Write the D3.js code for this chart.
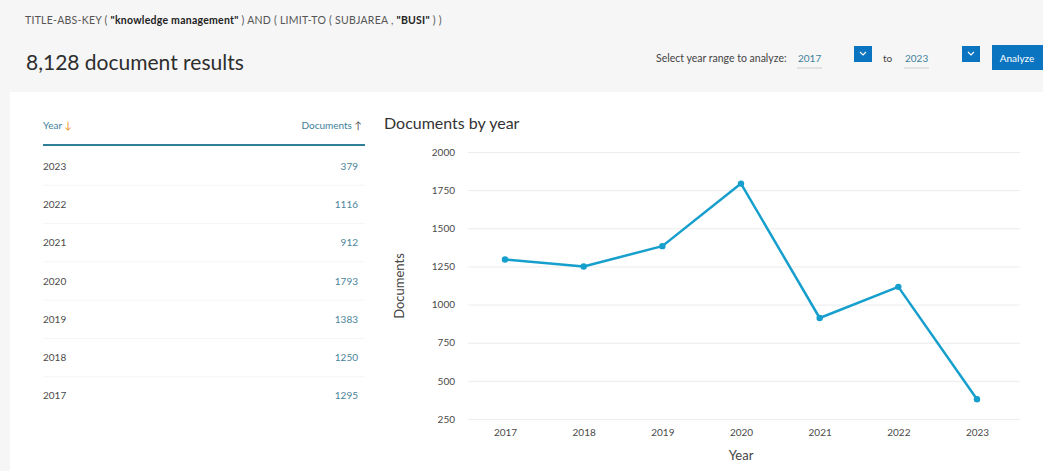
<!DOCTYPE html>
<html><head><meta charset="utf-8">
<script src="https://cdn.jsdelivr.net/npm/d3@7"></script>
<style>
html,body{margin:0;padding:0;background:#fff;}
svg{display:block;font-family:Lato,"Open Sans",sans-serif;}
</style></head>
<body>
<svg id="c" width="1043" height="471"></svg>
<script>
const years = [2017, 2018, 2019, 2020, 2021, 2022, 2023];
const documents = [1295, 1250, 1383, 1793, 912, 1116, 379];
const yTicks = [250, 500, 750, 1000, 1250, 1500, 1750, 2000];
const totalResults = "8,128 document results";
const chartTitle = "Documents by year";

const svg = d3.select("#c");
const W = 1043, H = 471;

// backgrounds
svg.append("rect").attr("width", W).attr("height", H).attr("fill", "#f6f6f6");
svg.append("rect").attr("x", 10).attr("y", 92).attr("width", W - 10).attr("height", H - 92).attr("fill", "#ffffff");

// query line
const q = svg.append("text").attr("x", 25).attr("y", 24).attr("font-size", 10.5).attr("letter-spacing", 0.25).attr("fill", "#555");
q.append("tspan").text('TITLE-ABS-KEY ( ');
q.append("tspan").attr("font-weight", "bold").attr("fill", "#222").text('"knowledge management"');
q.append("tspan").text(' ) AND ( LIMIT-TO ( SUBJAREA , ');
q.append("tspan").attr("font-weight", "bold").attr("fill", "#222").text('"BUSI"');
q.append("tspan").text(' ) )');

svg.append("text").attr("x", 26).attr("y", 70).attr("font-size", 21).attr("fill", "#2e2e2e").text(totalResults);

// year range controls
svg.append("text").attr("x", 656).attr("y", 62).attr("font-size", 10.5).attr("fill", "#444").text("Select year range to analyze:");
svg.append("text").attr("x", 798).attr("y", 62).attr("font-size", 10).attr("fill", "#3d7f9a").text(years[0]);
svg.append("line").attr("x1", 797).attr("x2", 822).attr("y1", 68).attr("y2", 68).attr("stroke", "#ccc");
svg.append("text").attr("x", 883).attr("y", 62).attr("font-size", 10).attr("fill", "#444").text("to");
svg.append("text").attr("x", 905).attr("y", 62).attr("font-size", 10).attr("fill", "#3d7f9a").text(years[years.length - 1]);
svg.append("line").attr("x1", 904).attr("x2", 929).attr("y1", 68).attr("y2", 68).attr("stroke", "#ccc");
[854, 962].forEach(x => {
  svg.append("rect").attr("x", x).attr("y", 46).attr("width", 18).attr("height", 16).attr("fill", "#0b74c0");
  svg.append("path").attr("d", `M${x+6},${52} L${x+9},${55} L${x+12},${52}`).attr("fill", "none").attr("stroke", "#fff").attr("stroke-width", 1.2);
});
svg.append("rect").attr("x", 992).attr("y", 45).attr("width", 51).attr("height", 25).attr("fill", "#0b74c0");
svg.append("text").attr("x", 1017).attr("y", 62).attr("font-size", 10).attr("fill", "#fff").attr("text-anchor", "middle").text("Analyze");

// table
const tbl = svg.append("g");
const hy = tbl.append("text").attr("x", 43).attr("y", 129).attr("font-size", 10).attr("fill", "#3d7f9a");
hy.append("tspan").text("Year ");
hy.append("tspan").attr("fill", "#e9911c").text("↓");
const hd = tbl.append("text").attr("x", 362).attr("y", 129).attr("font-size", 10).attr("fill", "#3d7f9a").attr("text-anchor", "end");
hd.append("tspan").text("Documents ");
hd.append("tspan").attr("fill", "#555").text("↑");
tbl.append("line").attr("x1", 43).attr("x2", 365).attr("y1", 145).attr("y2", 145).attr("stroke", "#2f7f98").attr("stroke-width", 2);

const rows = years.map((y, i) => ({ year: y, docs: documents[i] })).slice().reverse();
const rowY = d3.scaleBand().domain(rows.map(r => r.year)).range([147, 415]);
rows.forEach((r, i) => {
  const cy = rowY(r.year) + rowY.bandwidth() / 2;
  tbl.append("text").attr("x", 43).attr("y", cy + 3.5).attr("font-size", 10).attr("fill", "#4a4a4a").text(r.year);
  tbl.append("text").attr("x", 358).attr("y", cy + 3.5).attr("font-size", 10).attr("fill", "#4a8499").attr("text-anchor", "end").text(r.docs);
  if (i < rows.length - 1)
    tbl.append("line").attr("x1", 43).attr("x2", 365).attr("y1", rowY(r.year) + rowY.bandwidth()).attr("y2", rowY(r.year) + rowY.bandwidth()).attr("stroke", "#f5f5f5");
});

// chart
svg.append("text").attr("x", 384).attr("y", 129).attr("font-size", 16).attr("fill", "#333").text(chartTitle);

const x = d3.scalePoint().domain(years).range([505, 977]);
const y = d3.scaleLinear().domain([250, 2000]).range([419, 152]);

const gy = svg.append("g").attr("transform", "translate(468,0)")
  .call(d3.axisLeft(y).tickValues(yTicks).tickSize(-552).tickPadding(13).tickFormat(d3.format("d")));
gy.select(".domain").remove();
gy.selectAll(".tick line").attr("stroke", "#ececec");
gy.selectAll(".tick text").attr("font-size", 10).attr("fill", "#4a4a4a").attr("font-family", "Lato,'Open Sans',sans-serif");

const gx = svg.append("g").attr("transform", "translate(0,419)")
  .call(d3.axisBottom(x).tickSize(0).tickPadding(10).tickFormat(d3.format("d")));
gx.select(".domain").remove();
gx.selectAll(".tick text").attr("font-size", 10).attr("fill", "#4a4a4a").attr("font-family", "Lato,'Open Sans',sans-serif");

svg.append("text").attr("transform", "translate(404,286) rotate(-90)").attr("text-anchor", "middle")
  .attr("font-size", 13).attr("fill", "#444").text("Documents");
svg.append("text").attr("x", 741).attr("y", 460).attr("text-anchor", "middle")
  .attr("font-size", 13).attr("fill", "#444").text("Year");

const line = d3.line().x((d, i) => x(years[i])).y(d => y(d));
svg.append("path").datum(documents).attr("d", line).attr("fill", "none")
  .attr("stroke", "#169fcd").attr("stroke-width", 2.5).attr("stroke-linejoin", "round");
svg.selectAll("circle.pt").data(documents).join("circle").attr("class", "pt")
  .attr("cx", (d, i) => x(years[i])).attr("cy", d => y(d)).attr("r", 3.2).attr("fill", "#169fcd");
</script>
</body></html>
